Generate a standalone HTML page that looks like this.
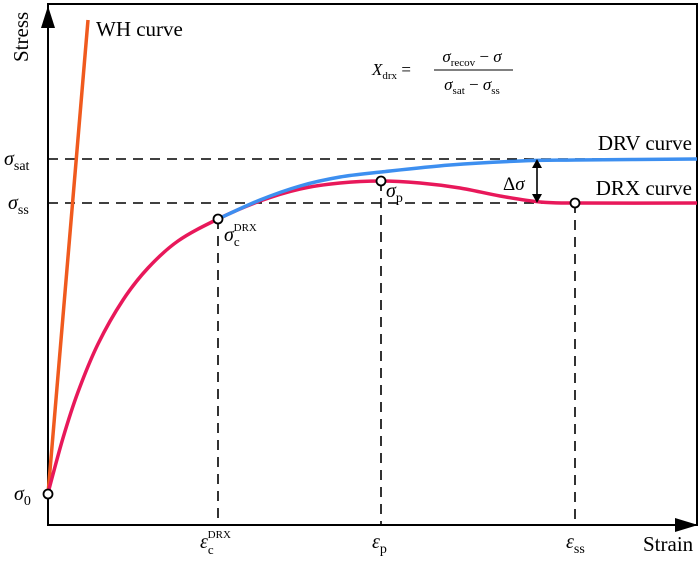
<!DOCTYPE html>
<html><head><meta charset="utf-8"><style>
body{margin:0;background:#fff;width:700px;height:561px;overflow:hidden}
svg{display:block;font-family:"Liberation Serif",serif}
.m{font-style:italic}
</style></head><body>
<svg id="c" width="700" height="561" viewBox="0 0 700 561">
<rect x="48" y="4" width="649" height="521" fill="none" stroke="#000" stroke-width="2"/>
<polygon points="41,28 48,6 55,28" fill="#000"/>
<polygon points="675,518 698,525 675,532" fill="#000"/>
<text transform="translate(28,62) rotate(-90)" font-size="21">Stress</text>
<text x="643" y="551" font-size="21">Strain</text>
<g id="guides" stroke="#000" stroke-width="1.6" stroke-dasharray="10,7" fill="none"></g>
<g id="marks"></g>
<text x="96" y="36" font-size="21">WH curve</text>
<text x="692" y="150" font-size="21" text-anchor="end">DRV curve</text>
<text x="692" y="195" font-size="21" text-anchor="end">DRX curve</text>
<g font-size="17">
<text x="372" y="75" class="m">X<tspan font-size="11" font-style="normal" dy="4">drx</tspan><tspan dy="-4" font-style="normal"> =</tspan></text>
<text x="472" y="62" text-anchor="middle"><tspan class="m">σ</tspan><tspan font-size="11" dy="4">recov</tspan><tspan dy="-4"> − </tspan><tspan class="m">σ</tspan></text>
<line x1="434" y1="70" x2="513" y2="70" stroke="#000" stroke-width="1"/>
<text x="472" y="90" text-anchor="middle"><tspan class="m">σ</tspan><tspan font-size="11" dy="4">sat</tspan><tspan dy="-4"> − </tspan><tspan class="m">σ</tspan><tspan font-size="11" dy="4">ss</tspan></text>
</g>
<g font-size="20">
<text x="4" y="165" class="m">σ<tspan font-size="14" font-style="normal" dy="5">sat</tspan></text>
<text x="8" y="209" class="m">σ<tspan font-size="14" font-style="normal" dy="5">ss</tspan></text>
<text x="14" y="500" class="m">σ<tspan font-size="14" font-style="normal" dy="5">0</tspan></text>
</g>
<g font-size="20">
<text x="200" y="548" class="m">ε<tspan font-size="13" font-style="normal" dy="6">c</tspan><tspan font-size="11" font-style="normal" dx="-6" dy="-16">DRX</tspan></text>
<text x="372" y="548" class="m">ε<tspan font-size="14" font-style="normal" dy="5">p</tspan></text>
<text x="566" y="548" class="m">ε<tspan font-size="14" font-style="normal" dy="5">ss</tspan></text>
</g>
<g font-size="20">
<text x="224" y="241" class="m">σ<tspan font-size="13" font-style="normal" dy="5">c</tspan><tspan font-size="11" font-style="normal" dx="-6" dy="-15">DRX</tspan></text>
<text x="386" y="197" class="m">σ<tspan font-size="14" font-style="normal" dy="5">p</tspan></text>
<text x="503" y="190" font-size="19">Δ<tspan class="m">σ</tspan></text>
</g>
<g>
<line x1="537" y1="165" x2="537" y2="197" stroke="#000" stroke-width="1.6"/>
<polygon points="532,168 537,159 542,168" fill="#000"/>
<polygon points="532,194 537,203 542,194" fill="#000"/>
</g>
</svg>
<script>
// data units: strain 0..649, stress 0..510
const redStrain=[0,15,30,50,75,100,130,170,212,252,292,333,372,412,452,492,527,649];
const redStress=[32,87,133,181,225,257,284,306,324,336,342,344,342,337,329,323,322,322];
const blueStrain=[170,212,252,292,333,402,472,527,649];
const blueStress=[306,325,339,348,353,360,364,365,366];
const whStrain=[0,40];
const whStress=[31,505];
const satStress=366, ssStress=322;
const guideStrain=[170,333,527];
const guideStress=[306,344,322];
const X=v=>48+v, Y=v=>525-v;
const NS="http://www.w3.org/2000/svg";
const marks=document.getElementById('marks'), guides=document.getElementById('guides');
function smooth(xs,ys){const p=xs.map((x,i)=>[X(x),Y(ys[i])]);let d=`M${p[0][0]},${p[0][1]}`;
for(let i=0;i<p.length-1;i++){const a=p[i-1]||p[i],b=p[i],c=p[i+1],e=p[i+2]||c;
d+=` C${b[0]+(c[0]-a[0])/6},${b[1]+(c[1]-a[1])/6} ${c[0]-(e[0]-b[0])/6},${c[1]-(e[1]-b[1])/6} ${c[0]},${c[1]}`;}return d;}
function line(x1,y1,x2,y2,par,name){const l=document.createElementNS(NS,'line');l.setAttribute('x1',x1);l.setAttribute('y1',y1);l.setAttribute('x2',x2);l.setAttribute('y2',y2);


par.appendChild(l);return l;}
line(X(0),Y(satStress),X(649),Y(satStress),guides,'sat-guide');
line(X(0),Y(ssStress),X(649),Y(ssStress),guides,'ss-guide');
guideStrain.forEach((s,i)=>{line(X(s),Y(guideStress[i]),X(s),Y(0),guides,'strain-guide');});
const wh=line(X(whStrain[0]),Y(whStress[0]),X(whStrain[1]),Y(whStress[1]),marks,'wh-curve');
wh.setAttribute('stroke','#f05a1e');wh.setAttribute('stroke-width','3.5');
function path(d,col,name){const p=document.createElementNS(NS,'path');p.setAttribute('d',d);p.setAttribute('stroke',col);p.setAttribute('stroke-width','3.5');p.setAttribute('fill','none');


marks.appendChild(p);}
path(smooth(redStrain,redStress),'#e8185a','drx-curve');
path(smooth(blueStrain,blueStress),'#3d8ff0','drv-curve');
const ps=[[0,31],[guideStrain[0],guideStress[0]],[guideStrain[1],guideStress[1]],[guideStrain[2],guideStress[2]]];
ps.forEach(q=>{const c=document.createElementNS(NS,'circle');c.setAttribute('cx',X(q[0]));c.setAttribute('cy',Y(q[1]));c.setAttribute('r',4.5);c.setAttribute('fill','#fff');c.setAttribute('stroke','#000');c.setAttribute('stroke-width','1.8');


marks.appendChild(c);});
</script>
</body></html>
